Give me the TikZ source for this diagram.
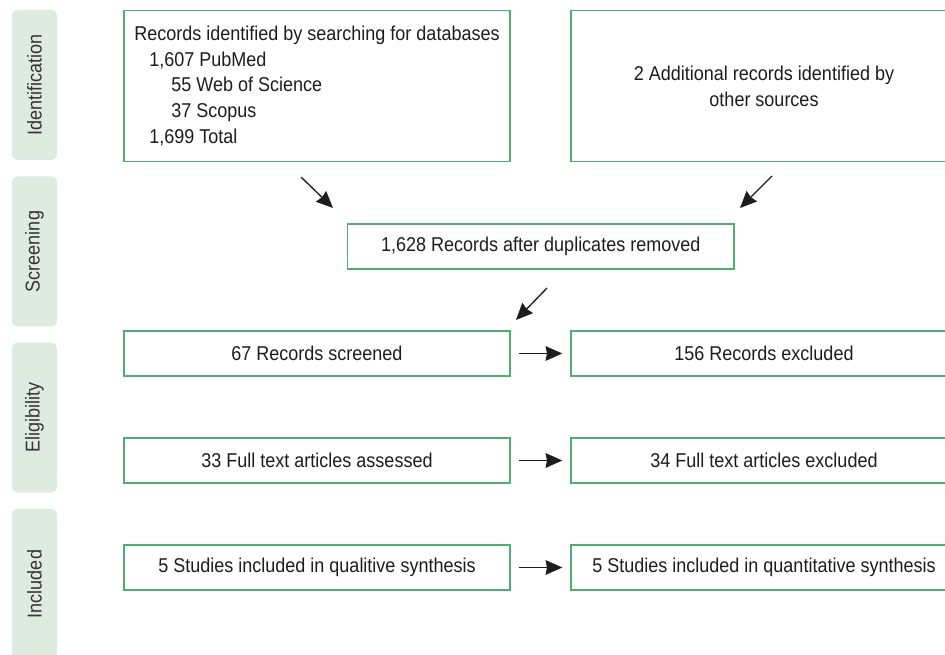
\documentclass[tikz,border=0pt]{standalone}
\usepackage{fontspec}
\setmainfont{Liberation Sans}[FakeStretch=0.9]
\usetikzlibrary{arrows.meta, positioning}
\definecolor{cgreen}{HTML}{4FAF73}
\definecolor{cband}{HTML}{DEEBE1}
\definecolor{ctext}{HTML}{1E1C1D}
\tikzset{
  every picture/.style={x=0.75pt, y=-0.75pt, font=\fontsize{15}{19.3}\selectfont},
  box/.style={draw=cgreen, line width=1.1pt, text=ctext, minimum width=289.5pt, minimum height=33.75pt, inner sep=0pt, align=center},
  band/.style={fill=cband, rounded corners=4pt, text=ctext!90, rotate=90, minimum width=112.5pt, minimum height=33.75pt, inner sep=0pt},
  arrow/.style={-{Stealth[length=12.5pt, width=11pt, inset=1pt]}, line width=1pt, draw=ctext},
}

\begin{document}
\begin{tikzpicture}
  \useasboundingbox (0,0) rectangle (945,655);
  \clip (0,0) rectangle (945,655);
  \node[band] (ident) at (34.5,85) {Identification};
  \node[band] (screen) at (34.5,251.5) {Screening};
  \node[band] (elig) at (34.5,417.5) {Eligibility};
  \node[band] (incl) at (34.5,584) {Included};
  \node[box, align=left, minimum height=113.25pt] (dbs) at (317,86) {Records identified by searching for databases\\\hspace*{11.25pt}1,607 PubMed\\\hspace*{27.75pt}55 Web of Science\\\hspace*{27.75pt}37 Scopus\\\hspace*{11.25pt}1,699 Total};
  \node[box, minimum height=113.25pt] (other) at (764,86) {2 Additional records identified by\\other sources};
  \node[box, minimum width=290pt] (dedup) at (540.75,246.5) {1,628 Records after duplicates removed};
  \node[box] (screened) at (317,353.5) {67 Records screened};
  \node[box] (recex) at (764,353.5) {156 Records excluded};
  \node[box] (full) at (317,460.5) {33 Full text articles assessed};
  \node[box] (fullex) at (764,460.5) {34 Full text articles excluded};
  \node[box] (qual) at (317,567.5) {5 Studies included in qualitive synthesis};
  \node[box] (quant) at (764,567.5) {5 Studies included in quantitative synthesis};
  \coordinate (dbsout) at (301,177);
  \coordinate (dedupin1) at (333,208);
  \coordinate (otherout) at (772,176);
  \coordinate (dedupin2) at (740,208);
  \coordinate (dedupout) at (547,288);
  \coordinate (screenin) at (516,320);
  \draw[arrow] (dbsout) -- (dedupin1);
  \draw[arrow] (otherout) -- (dedupin2);
  \draw[arrow] (dedupout) -- (screenin);
  \draw[arrow, shorten <=6pt, shorten >=6pt] (screened) -- (recex);
  \draw[arrow, shorten <=6pt, shorten >=6pt] (full) -- (fullex);
  \draw[arrow, shorten <=6pt, shorten >=6pt] (qual) -- (quant);
\end{tikzpicture}
\end{document}
